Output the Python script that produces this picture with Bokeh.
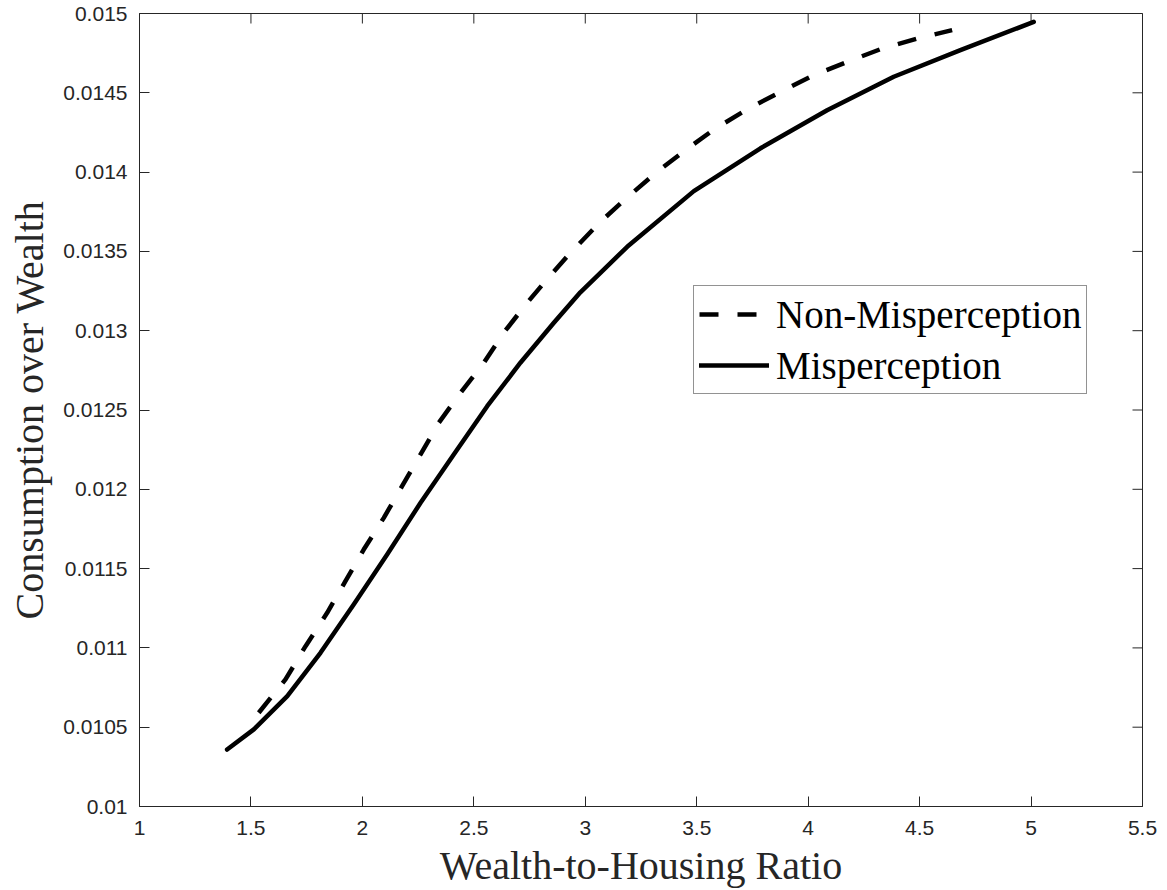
import math
from bokeh.plotting import figure
from bokeh.models import FixedTicker, Range1d, Legend, LegendItem
from bokeh.embed import file_html
from bokeh.resources import INLINE

# ---- data ----
nonmis_x = [1.535, 1.655, 1.745, 1.842, 1.924, 2.006, 2.096, 2.178, 2.261, 2.343, 2.440, 2.545,
            2.634, 2.739, 2.821, 2.926, 3.068, 3.188, 3.322, 3.449, 3.584, 3.733, 3.876, 4.025,
            4.175, 4.332, 4.489, 4.646]
nonmis_y = [0.010591, 0.010801, 0.011011, 0.011221, 0.011421, 0.011620, 0.011820, 0.012020,
            0.012220, 0.012420, 0.012608, 0.012798, 0.012987, 0.013176, 0.013312, 0.013480,
            0.013687, 0.013840, 0.014002, 0.014138, 0.014275, 0.014401, 0.014506, 0.014611,
            0.014695, 0.014779, 0.014842, 0.014895]

mis_x = [1.393, 1.513, 1.663, 1.812, 1.961, 2.111, 2.261, 2.410, 2.560, 2.709, 2.859, 2.978,
         3.068, 3.188, 3.487, 3.786, 4.085, 4.384, 4.683, 5.012]
mis_y = [0.010359, 0.010486, 0.010696, 0.010969, 0.011274, 0.011589, 0.011915, 0.012219,
         0.012524, 0.012798, 0.013050, 0.013242, 0.013365, 0.013529, 0.013880, 0.014150,
         0.014390, 0.014601, 0.014769, 0.014947]

x_ticks = [1, 1.5, 2, 2.5, 3, 3.5, 4, 4.5, 5, 5.5]
x_tick_labels = ["1", "1.5", "2", "2.5", "3", "3.5", "4", "4.5", "5", "5.5"]
y_ticks = [0.01, 0.0105, 0.011, 0.0115, 0.012, 0.0125, 0.013, 0.0135, 0.014, 0.0145, 0.015]
y_tick_labels = ["0.01", "0.0105", "0.011", "0.0115", "0.012", "0.0125", "0.013",
                 "0.0135", "0.014", "0.0145", "0.015"]

x_label = "Wealth-to-Housing Ratio"
y_label = "Consumption over Wealth"
series_names = ["Non-Misperception", "Misperception"]

AX = "#262626"
TICK_FONT = "Liberation Sans"
SERIF = "Liberation Serif"

x_min, x_max = x_ticks[0], x_ticks[-1]
y_min, y_max = y_ticks[0], y_ticks[-1]

p = figure(frame_width=1003, frame_height=793,
           min_border_left=139, min_border_right=17, min_border_top=13, min_border_bottom=75,
           x_range=Range1d(x_min, x_max), y_range=Range1d(y_min, y_max),
           output_backend="svg", toolbar_location=None,
           background_fill_color="white", border_fill_color="white")
p.grid.visible = False
p.outline_line_color = AX
p.outline_line_width = 1

def style(ax, ticks, labels):
    ax.ticker = FixedTicker(ticks=ticks)
    ax.major_label_overrides = {t: l for t, l in zip(ticks, labels)}
    ax.minor_tick_line_color = None
    ax.major_tick_in = 10
    ax.major_tick_out = 0
    ax.major_tick_line_color = AX
    ax.axis_line_color = AX
    ax.major_label_text_color = AX
    ax.major_label_text_font = TICK_FONT
    ax.major_label_text_font_size = "21px"
    ax.axis_label_text_font = SERIF
    ax.axis_label_text_font_size = "40px"
    ax.axis_label_text_font_style = "normal"
    ax.axis_label_text_color = AX

style(p.xaxis[0], x_ticks, x_tick_labels)
style(p.yaxis[0], y_ticks, y_tick_labels)
p.xaxis[0].major_label_standoff = 14
p.yaxis[0].major_label_standoff = 12
p.xaxis[0].axis_label = x_label
p.yaxis[0].axis_label = y_label
p.xaxis[0].axis_label_standoff = 5
p.yaxis[0].axis_label_standoff = 8

# mirrored inward ticks on the top and right edges (markers are clipped to the frame,
# so only the inner half of each 20px dash shows)
p.scatter(x=x_ticks, y=[y_max] * len(x_ticks), marker="dash", size=20, angle=math.pi / 2,
          line_color=AX, line_width=1)
p.scatter(x=[x_max] * len(y_ticks), y=y_ticks, marker="dash", size=20,
          line_color=AX, line_width=1)

r_dash = p.line(nonmis_x, nonmis_y, line_color="black", line_width=4.5, line_dash="19 19",
                line_join="round")
r_solid = p.line(mis_x, mis_y, line_color="black", line_width=4.5, line_join="round",
                 line_cap="round")

legend = Legend(items=[LegendItem(label=series_names[0], renderers=[r_dash]),
                       LegendItem(label=series_names[1], renderers=[r_solid])],
                location=(554, 412), orientation="vertical")
legend.label_text_font = SERIF
legend.label_text_font_size = "39px"
legend.label_text_color = "black"
legend.glyph_width = 70
legend.glyph_height = 46
legend.label_height = 46
legend.label_standoff = 7
legend.spacing = 5
legend.padding = 5
legend.margin = 0
legend.border_line_color = AX
legend.border_line_width = 1
legend.background_fill_color = "white"
legend.background_fill_alpha = 1
p.add_layout(legend, "center")

open("out.html", "w").write(file_html(p, INLINE))
